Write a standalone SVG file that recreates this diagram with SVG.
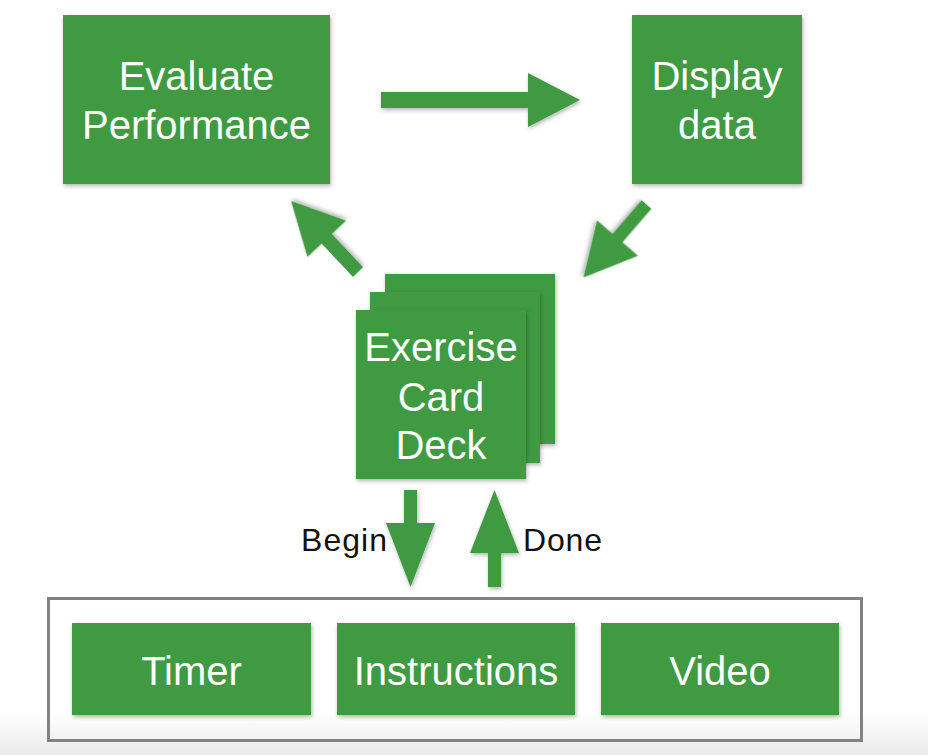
<svg xmlns="http://www.w3.org/2000/svg" width="928" height="755" viewBox="0 0 928 755">
<defs>
<filter id="sh" x="-10%" y="-10%" width="125%" height="130%">
<feDropShadow dx="1" dy="2" stdDeviation="2.2" flood-color="#000" flood-opacity="0.3"/>
</filter>
<linearGradient id="bot" x1="0" y1="0" x2="0" y2="1">
<stop offset="0" stop-color="#ffffff"/>
<stop offset="1" stop-color="#ebebeb"/>
</linearGradient>
</defs>
<style>
.box{fill:#409a42;filter:url(#sh);}
.arr{fill:#409a42;filter:url(#sh);}
.t{fill:#ffffff;font-family:"Liberation Sans",Arial,sans-serif;font-size:40px;text-anchor:middle;}
.lbl{fill:#111111;font-family:"Liberation Sans",Arial,sans-serif;font-size:32px;}
.frame{fill:none;stroke:#808285;stroke-width:3;}
</style>
<rect x="0" y="0" width="928" height="755" fill="#ffffff"/>
<rect x="0" y="712" width="928" height="43" fill="url(#bot)"/>

<g id="evaluate">
<rect class="box" x="63" y="15" width="267" height="169"/>
<text class="t" x="196.5" y="90">Evaluate</text>
<text class="t" x="196.5" y="139">Performance</text>
</g>

<g id="display">
<rect class="box" x="632" y="15" width="170" height="169"/>
<text class="t" x="717" y="90">Display</text>
<text class="t" x="717" y="139">data</text>
</g>

<g id="deck">
<rect class="box" x="385" y="274" width="170" height="170"/>
<rect class="box" x="370" y="292" width="170" height="171"/>
<rect class="box" x="356" y="310" width="170" height="169"/>
<text class="t" x="441" y="361">Exercise</text>
<text class="t" x="441" y="411">Card</text>
<text class="t" x="441" y="459">Deck</text>
</g>

<g id="container">
<rect class="frame" x="48.5" y="598.5" width="813" height="142"/>
</g>

<g id="timer">
<rect class="box" x="72" y="623" width="239" height="92"/>
<text class="t" x="191.5" y="685">Timer</text>
</g>

<g id="instructions">
<rect class="box" x="337" y="623" width="238" height="92"/>
<text class="t" x="456" y="685">Instructions</text>
</g>

<g id="video">
<rect class="box" x="601" y="623" width="238" height="92"/>
<text class="t" x="720" y="685">Video</text>
</g>

<g id="connectors">
<polygon class="arr" points="381,92 528,92 528,73 580,100 528,127 528,108 381,108"/>
<polygon class="arr" transform="translate(646.5,204.5) rotate(130.8)" points="0,-6.5 44.4,-6.5 44.4,-27 96.4,0 44.4,27 44.4,6.5 0,6.5"/>
<polygon class="arr" transform="translate(358,272) rotate(226.7)" points="0,-7 45.6,-7 45.6,-26.5 97.6,0 45.6,26.5 45.6,7 0,7"/>
<polygon class="arr" points="404,490 417,490 417,523 435,523 410.5,587 386,523 404,523"/>
<polygon class="arr" points="494.5,490 519,553 501,553 501,587 488,587 488,553 470,553"/>
<text class="lbl" x="387" y="551" text-anchor="end" textLength="86">Begin</text>
<text class="lbl" x="523" y="551" textLength="79">Done</text>
</g>
</svg>
